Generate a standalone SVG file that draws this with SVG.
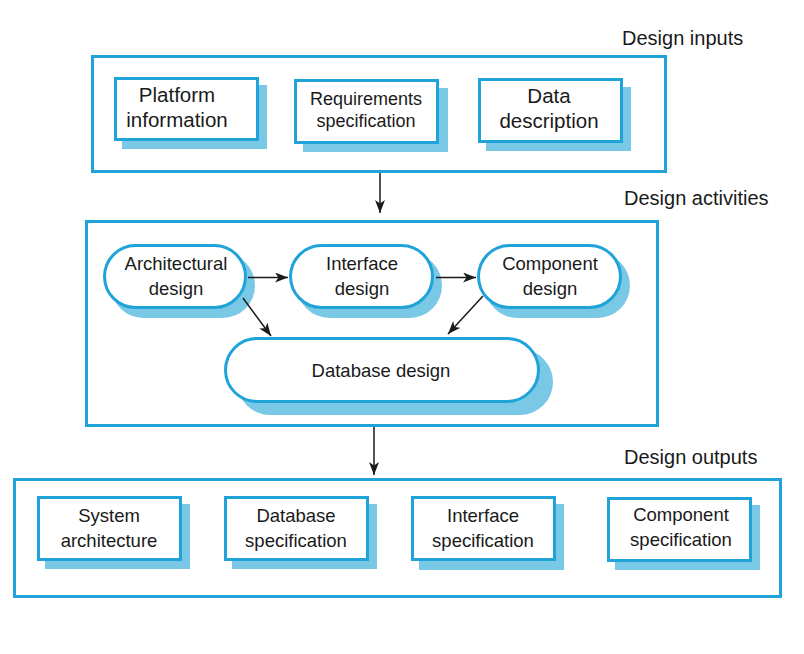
<svg xmlns="http://www.w3.org/2000/svg" width="804" height="654" viewBox="0 0 804 654">
<defs>
<style>
.frame{fill:none;stroke:#1fa3d9;stroke-width:3}
.box{fill:#ffffff;stroke:#1fa3d9;stroke-width:3}
.shadow{fill:#78c8e6;stroke:none}
.t{font-family:"Liberation Sans",Arial,sans-serif;fill:#1a1a1a;text-anchor:middle;font-size:18.5px}
.big{font-size:20.5px}
.head{font-family:"Liberation Sans",Arial,sans-serif;fill:#1a1a1a;font-size:20px}
.conn{stroke:#1a1a1a;stroke-width:1.5;fill:none;marker-end:url(#ah)}
</style>
<marker id="ah" viewBox="0 0 13 10" refX="13" refY="5" markerWidth="13" markerHeight="10" markerUnits="userSpaceOnUse" orient="auto">
<path d="M0,0 L13,5 L0,10 L3.5,5 Z" fill="#1a1a1a"/>
</marker>
</defs>
<rect width="804" height="654" fill="#ffffff"/>

<g id="inputs">
<rect class="frame" x="92.5" y="56.5" width="573" height="115"/>
<text class="head" x="622" y="45">Design inputs</text>
</g>
<g id="platform">
<rect class="shadow" x="122" y="85" width="145" height="64"/>
<rect class="box" x="115.5" y="78.5" width="142" height="61"/>
<text class="t big" x="177" y="102">Platform</text>
<text class="t big" x="177" y="127">information</text>
</g>
<g id="requirements">
<rect class="shadow" x="303" y="88" width="145" height="64"/>
<rect class="box" x="295.5" y="80.5" width="142" height="62"/>
<text class="t" x="366" y="105" style="font-size:18px">Requirements</text>
<text class="t" x="366" y="127" style="font-size:18px">specification</text>
</g>
<g id="data">
<rect class="shadow" x="486" y="87" width="145" height="64"/>
<rect class="box" x="479.5" y="79.5" width="142" height="62"/>
<text class="t big" x="549" y="103">Data</text>
<text class="t big" x="549" y="128">description</text>
</g>

<g id="activities">
<rect class="frame" x="86.5" y="221.5" width="571" height="204"/>
<text class="head" x="624" y="205">Design activities</text>
</g>
<g id="architectural">
<rect class="shadow" x="111" y="253" width="144" height="65" rx="32.5"/>
<rect class="box" x="104.5" y="245.5" width="141" height="62" rx="31"/>
<text class="t" x="176" y="270">Architectural</text>
<text class="t" x="176" y="295">design</text>
</g>
<g id="interface">
<rect class="shadow" x="297" y="253" width="145" height="65" rx="32.5"/>
<rect class="box" x="290.5" y="245.5" width="142" height="62" rx="31"/>
<text class="t" x="362" y="270">Interface</text>
<text class="t" x="362" y="295">design</text>
</g>
<g id="component">
<rect class="shadow" x="485" y="253" width="145" height="65" rx="32.5"/>
<rect class="box" x="478.5" y="245.5" width="142" height="62" rx="31"/>
<text class="t" x="550" y="270">Component</text>
<text class="t" x="550" y="295">design</text>
</g>
<g id="database">
<rect class="shadow" x="237" y="349" width="316" height="66" rx="33"/>
<rect class="box" x="225.5" y="338.5" width="313" height="63" rx="31.5"/>
<text class="t" x="381" y="377">Database design</text>
</g>

<g id="outputs">
<rect class="frame" x="14.5" y="479.5" width="766" height="117"/>
<text class="head" x="624" y="464">Design outputs</text>
</g>
<g id="system-architecture">
<rect class="shadow" x="45" y="504" width="145" height="65"/>
<rect class="box" x="38.5" y="497.5" width="142" height="62"/>
<text class="t" x="109" y="522">System</text>
<text class="t" x="109" y="547">architecture</text>
</g>
<g id="database-specification">
<rect class="shadow" x="232" y="504" width="145" height="65"/>
<rect class="box" x="225.5" y="497.5" width="142" height="62"/>
<text class="t" x="296" y="522">Database</text>
<text class="t" x="296" y="547">specification</text>
</g>
<g id="interface-specification">
<rect class="shadow" x="419" y="504" width="145" height="66"/>
<rect class="box" x="412.5" y="497.5" width="142" height="62"/>
<text class="t" x="483" y="522">Interface</text>
<text class="t" x="483" y="547">specification</text>
</g>
<g id="component-specification">
<rect class="shadow" x="615" y="505" width="145" height="65"/>
<rect class="box" x="608.5" y="498.5" width="142" height="62"/>
<text class="t" x="681" y="521">Component</text>
<text class="t" x="681" y="546">specification</text>
</g>

<g id="connectors">
<line class="conn" x1="380" y1="173" x2="380" y2="213"/>
<line class="conn" x1="248" y1="277.5" x2="288" y2="277.5"/>
<line class="conn" x1="436" y1="277.5" x2="476" y2="277.5"/>
<line class="conn" x1="243" y1="298" x2="271" y2="336"/>
<line class="conn" x1="483" y1="296" x2="448" y2="334"/>
<line class="conn" x1="374" y1="427" x2="374" y2="475"/>
</g>
</svg>
